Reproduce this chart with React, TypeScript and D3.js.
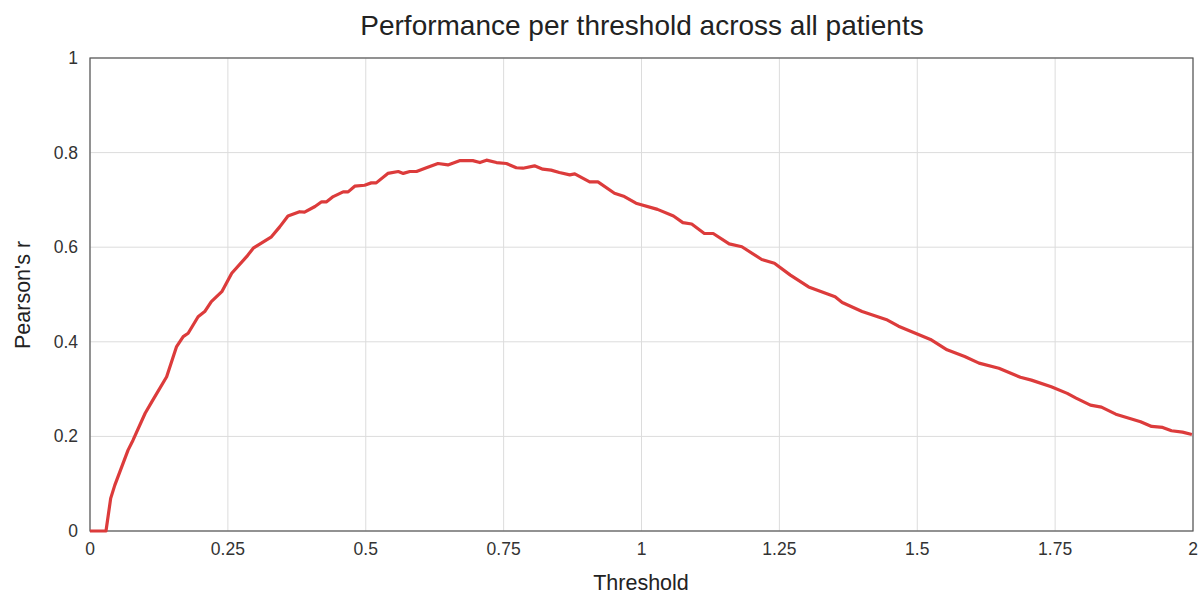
import { useEffect, useRef } from 'react';
import * as d3 from 'd3';

const thresholds = [0, 0.029, 0.0375, 0.045, 0.069, 0.078, 0.1, 0.112, 0.139, 0.157, 0.169, 0.178, 0.196, 0.208, 0.22, 0.239, 0.257, 0.284, 0.296, 0.329, 0.344, 0.359, 0.38, 0.389, 0.408, 0.42, 0.429, 0.441, 0.459, 0.468, 0.48, 0.498, 0.51, 0.519, 0.54, 0.559, 0.568, 0.58, 0.592, 0.61, 0.631, 0.649, 0.67, 0.694, 0.707, 0.719, 0.737, 0.755, 0.773, 0.785, 0.806, 0.821, 0.836, 0.851, 0.87, 0.879, 0.906, 0.921, 0.951, 0.969, 0.99, 1.029, 1.058, 1.075, 1.091, 1.114, 1.13, 1.159, 1.182, 1.218, 1.241, 1.27, 1.303, 1.351, 1.364, 1.4, 1.446, 1.466, 1.524, 1.554, 1.586, 1.612, 1.648, 1.687, 1.707, 1.743, 1.772, 1.788, 1.814, 1.834, 1.86, 1.905, 1.925, 1.945, 1.961, 1.981, 1.998];
const pearsonR = [0, 0, 0.069, 0.097, 0.171, 0.192, 0.249, 0.273, 0.326, 0.39, 0.411, 0.418, 0.453, 0.464, 0.485, 0.506, 0.545, 0.58, 0.598, 0.622, 0.643, 0.666, 0.675, 0.674, 0.686, 0.696, 0.696, 0.707, 0.717, 0.717, 0.729, 0.731, 0.736, 0.736, 0.756, 0.76, 0.756, 0.76, 0.76, 0.768, 0.777, 0.774, 0.783, 0.783, 0.779, 0.784, 0.779, 0.777, 0.768, 0.767, 0.772, 0.765, 0.763, 0.758, 0.753, 0.755, 0.738, 0.738, 0.714, 0.707, 0.693, 0.68, 0.666, 0.652, 0.649, 0.629, 0.629, 0.607, 0.601, 0.574, 0.566, 0.541, 0.516, 0.495, 0.483, 0.464, 0.446, 0.433, 0.405, 0.383, 0.369, 0.355, 0.344, 0.325, 0.319, 0.305, 0.291, 0.281, 0.266, 0.262, 0.247, 0.231, 0.221, 0.219, 0.212, 0.209, 0.204];

const xTicks = [0, 0.25, 0.5, 0.75, 1, 1.25, 1.5, 1.75, 2];
const yTicks = [0, 0.2, 0.4, 0.6, 0.8, 1];

const FONT = '"Liberation Sans", Arial, sans-serif';

const Chart = () => {
  const ref = useRef<SVGSVGElement>(null);

  useEffect(() => {
    const width = 1203;
    const height = 596;
    const m = { top: 58, right: 10, bottom: 65, left: 90 };

    const svg = d3.select(ref.current);
    svg.selectAll('*').remove();
    svg.attr('width', width).attr('height', height);

    const x = d3.scaleLinear().domain([0, 2]).range([m.left, width - m.right]);
    const y = d3.scaleLinear().domain([0, 1]).range([height - m.bottom, m.top]);

    // grid
    svg.append('g')
      .selectAll('line')
      .data(xTicks)
      .enter()
      .append('line')
      .attr('x1', d => x(d)).attr('x2', d => x(d))
      .attr('y1', y(0)).attr('y2', y(1))
      .attr('stroke', '#dcdcdc').attr('stroke-width', 1);

    svg.append('g')
      .selectAll('line')
      .data(yTicks)
      .enter()
      .append('line')
      .attr('x1', x(0)).attr('x2', x(2))
      .attr('y1', d => y(d)).attr('y2', d => y(d))
      .attr('stroke', '#dcdcdc').attr('stroke-width', 1);

    // frame
    svg.append('rect')
      .attr('x', x(0)).attr('y', y(1))
      .attr('width', x(2) - x(0)).attr('height', y(0) - y(1))
      .attr('fill', 'none').attr('stroke', '#555').attr('stroke-width', 1.2);

    // tick labels
    svg.append('g')
      .selectAll('text')
      .data(xTicks)
      .enter()
      .append('text')
      .attr('x', d => x(d)).attr('y', y(0) + 24)
      .attr('text-anchor', 'middle')
      .style('font-family', FONT).style('font-size', '17.5px').attr('fill', '#333')
      .text(d => String(d));

    svg.append('g')
      .selectAll('text')
      .data(yTicks)
      .enter()
      .append('text')
      .attr('x', x(0) - 12).attr('y', d => y(d) + 6)
      .attr('text-anchor', 'end')
      .style('font-family', FONT).style('font-size', '17.5px').attr('fill', '#333')
      .text(d => String(d));

    // line
    const pts = thresholds.map((t, i) => [t, pearsonR[i]] as [number, number]);
    const line = d3.line<[number, number]>()
      .x(d => x(d[0]))
      .y(d => y(d[1]));

    svg.append('path')
      .datum(pts)
      .attr('d', line)
      .attr('fill', 'none')
      .attr('stroke', '#dc3b3b')
      .attr('stroke-width', 3.2)
      .attr('stroke-linejoin', 'round');

    // titles
    svg.append('text')
      .attr('x', 642).attr('y', 35)
      .attr('text-anchor', 'middle')
      .style('font-family', FONT).style('font-size', '28px').attr('fill', '#222')
      .text('Performance per threshold across all patients');

    svg.append('text')
      .attr('x', 641).attr('y', 590)
      .attr('text-anchor', 'middle')
      .style('font-family', FONT).style('font-size', '21.5px').attr('fill', '#222')
      .text('Threshold');

    svg.append('text')
      .attr('transform', `translate(30, 295) rotate(-90)`)
      .attr('text-anchor', 'middle')
      .style('font-family', FONT).style('font-size', '21.5px').attr('fill', '#222')
      .text("Pearson's r");
  }, []);

  return <svg ref={ref} style={{ position: 'absolute', left: 0, top: 0 }}></svg>;
};

export default function App() {
  return <Chart />;
}
